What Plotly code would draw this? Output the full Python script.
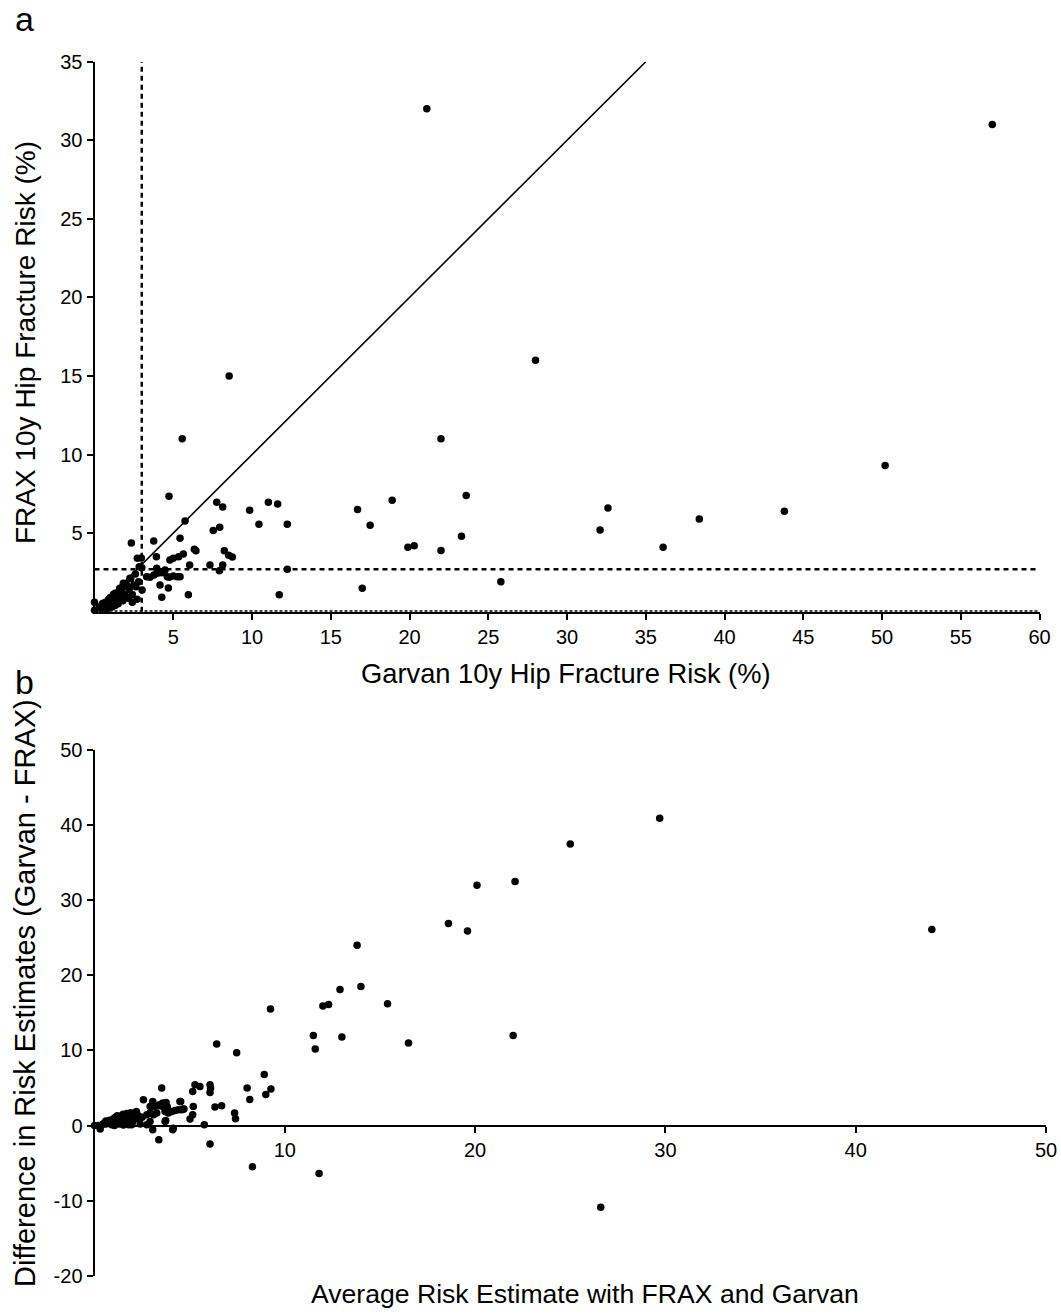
import plotly.graph_objects as go

W, H = 1061, 1316
FONT = "Liberation Sans, Arial, sans-serif"

# Panel a: Garvan vs FRAX 10-year hip fracture risk (%)
garvan = [21.1, 57.0, 28.0, 8.55, 5.57, 22.0, 50.2, 4.73, 43.8, 38.4, 36.1, 32.6, 32.1,
          25.8, 23.6, 23.3, 22.0, 20.3, 19.9, 18.9, 17.5, 16.7, 17.0, 12.24, 12.24, 11.73,
          11.63, 11.04, 10.44, 9.85, 8.14, 7.76, 7.95, 7.54, 5.75, 5.43, 8.24, 8.52, 8.75,
          6.34, 6.44, 5.64, 6.04, 7.33, 8.14, 7.93, 5.96, 5.43, 3.76, 2.34, 3.93, 2.72, 2.97,
          5.34, 5.0, 4.79, 2.84, 3.0, 3.95, 3.31, 3.52, 3.78, 3.99, 4.27, 4.48, 4.62, 4.75,
          5.0, 5.26, 4.16, 4.69, 3.02, 2.63, 4.27, 0.0, 0.0,
          0.3, 0.4, 0.5, 0.6, 0.7, 0.8, 0.9, 1.0, 1.0, 1.1, 1.2, 1.3, 1.3, 1.4, 1.5, 1.5,
          1.6, 1.7, 1.8, 1.8, 1.9, 2.0, 2.1, 2.2, 2.3, 2.4, 2.5, 2.6, 2.7, 2.1, 1.6, 1.2,
          0.7, 2.8, 2.4, 1.83, 2.25, 1.3, 1.62, 2.15, 0.56, 0.98]
frax = [32.0, 31.0, 16.0, 15.0, 11.0, 11.0, 9.3, 7.35, 6.4, 5.9, 4.1, 6.6, 5.2,
        1.9, 7.4, 4.8, 3.9, 4.2, 4.1, 7.1, 5.5, 6.5, 1.5, 5.56, 2.7, 1.08,
        6.86, 6.96, 5.56, 6.45, 6.66, 6.96, 5.37, 5.16, 5.77, 4.67, 3.88, 3.59, 3.48,
        3.97, 3.88, 3.67, 2.97, 2.97, 2.97, 2.61, 1.08, 2.23, 4.5, 4.37, 3.5, 3.4, 3.41,
        3.5, 3.4, 3.29, 2.86, 2.8, 2.76, 2.23, 2.19, 2.34, 2.44, 2.48, 2.65, 2.23, 2.19,
        2.27, 2.23, 1.7, 1.51, 1.38, 1.59, 0.92, 0.6, 0.1,
        0.3, 0.2, 0.5, 0.3, 0.6, 0.2, 0.8, 0.5, 0.9, 0.3, 0.7, 1.0, 0.4, 0.8, 1.1, 0.5,
        0.9, 1.3, 0.7, 1.6, 1.1, 1.8, 0.9, 1.4, 2.1, 1.1, 1.7, 2.4, 0.8, 1.6, 1.5, 1.1,
        0.1, 1.9, 0.6, 1.81, 2.13, 1.17, 0.95, 0.85, 0.53, 0.74]

# Treatment thresholds and line of identity
garvan_cut = [3.0]
frax_cut = [2.7]
identity = [0, 35]

# Panel b: average of the two estimates vs their difference (Garvan - FRAX)
avg_risk = [44.0, 29.7, 25.0, 22.1, 20.1, 18.6, 19.6, 13.8, 15.4, 14.0, 12.9, 16.5, 12.3,
            12.0, 13.0, 11.5, 11.6, 9.25, 8.92, 7.47, 6.42, 26.6, 22.0, 11.8, 8.3,
            9.0, 9.27, 8.02, 8.16, 7.36, 7.41, 6.33, 6.68, 6.07, 6.1, 6.07, 6.07, 5.77,
            5.28, 5.54, 5.16, 5.19, 5.16, 5.02, 4.53, 4.49, 4.67, 4.11, 4.14, 3.74, 3.71,
            3.71, 3.88, 4.05, 4.23, 4.4, 4.58, 4.7, 3.41, 3.59, 3.76, 3.62, 3.53, 3.38, 3.06,
            3.13, 3.06, 2.92, 2.75, 2.75, 2.92, 3.1, 3.27, 2.57, 2.92, 3.36, 3.83, 2.2, 0.0, 0.3,
            0.4, 0.5, 0.6, 0.7, 0.8, 0.8, 0.9, 1.0, 1.0, 1.1, 1.1, 1.2, 1.2, 1.3, 1.3, 1.4,
            1.4, 1.5, 1.5, 1.6, 1.6, 1.7, 1.7, 1.8, 1.8, 1.9, 1.9, 2.0, 2.0, 2.1, 2.2, 2.3,
            2.4, 2.5, 0.2, 0.6, 1.05, 1.52, 1.96]
diff_risk = [26.1, 40.9, 37.5, 32.5, 32.0, 26.9, 25.9, 24.0, 16.2, 18.5, 18.1, 11.0, 16.1,
             15.9, 11.8, 12.0, 10.2, 15.5, 6.8, 9.7, 10.85, -10.9, 12.0, -6.4, -5.5,
             4.13, 4.85, 4.98, 3.45, 1.65, 0.89, 2.45, 2.63, 5.43, 4.98, 4.4, -2.48, 0.1,
             5.43, 5.2, 4.53, 2.53, 1.43, 0.85, 3.2, 3.2, 2.19, -0.57, -0.35, 0.67, 0.53,
             1.87, 1.65, 1.87, 2.0, 2.1, 2.1, 2.19, 2.76, 2.99, 3.07, 2.45, 4.98, -1.9, 3.2,
             2.53, -0.57, 0.53, 0.1, 1.43, 1.65, 1.43, 1.65, 3.43, 2.53, 2.63, 2.45, 1.87, 0.0, -0.45,
             0.1, 0.3, 0.2, 0.5, 0.3, 0.7, 0.1, 0.5, 0.9, 0.3, 1.1, 0.6, 1.3, 0.9, 0.2, 1.2,
             0.6, 1.5, 0.9, 1.3, 0.4, 1.6, 1.0, 1.4, 0.1, 1.7, 0.8, 1.2, 0.5, 1.5, 0.9, 1.3,
             0.2, 1.1, 0.0, 0.6, 0.0, 0.05, 0.1]

a_xticks = [5, 10, 15, 20, 25, 30, 35, 40, 45, 50, 55, 60]
a_yticks = [5, 10, 15, 20, 25, 30, 35]
b_xticks = [10, 20, 30, 40, 50]
b_yticks = [-20, -10, 0, 10, 20, 30, 40, 50]
b_ylabels = ["-20", "-10", "0", "10", "20", "30", "40", "50"]


def px_x(p):
    return p / W


def px_y(p):
    return 1 - p / H


dot = dict(color="black", size=7.5, line=dict(width=0))

fig = go.Figure()
fig.add_trace(go.Scatter(x=garvan, y=frax, mode="markers", marker=dot,
                         xaxis="x", yaxis="y", cliponaxis=False, showlegend=False,
                         hoverinfo="x+y"))
fig.add_trace(go.Scatter(x=identity, y=identity, mode="lines",
                         line=dict(color="black", width=1.6),
                         xaxis="x", yaxis="y", showlegend=False, hoverinfo="skip"))
fig.add_trace(go.Scatter(x=avg_risk, y=diff_risk, mode="markers", marker=dot,
                         xaxis="x2", yaxis="y2", cliponaxis=False, showlegend=False,
                         hoverinfo="x+y"))

dash_style = dict(color="black", width=2.4, dash="5px,4px")
fig.add_shape(type="line", xref="x", yref="y", x0=garvan_cut[0], x1=garvan_cut[0],
              y0=0, y1=35, line=dash_style, layer="below")
fig.add_shape(type="line", xref="x", yref="y", x0=0, x1=60,
              y0=frax_cut[0], y1=frax_cut[0], line=dash_style, layer="below")
# dotted baseline along the bottom of panel a
fig.add_shape(type="line", xref="x", yref="y", x0=0, x1=60, y0=0, y1=0,
              line=dict(color="black", width=3, dash="3px,2px"), layer="below")

axis_common = dict(showgrid=False, zeroline=False, showline=True, linecolor="black",
                   linewidth=2, ticks="outside", ticklen=6, tickwidth=1.6,
                   tickcolor="black", tickfont=dict(family=FONT, size=20, color="black"),
                   tickmode="array", fixedrange=True, automargin=False)

fig.update_layout(
    template="none",
    width=W, height=H,
    margin=dict(l=0, r=0, t=0, b=0, pad=0, autoexpand=False),
    paper_bgcolor="white", plot_bgcolor="white",
    font=dict(family=FONT, color="black"),
    showlegend=False,
    xaxis=dict(domain=[px_x(94.5), px_x(1039.5)], range=[0, 60], anchor="y",
               tickvals=a_xticks, **axis_common),
    yaxis=dict(domain=[px_y(611.7), px_y(61.7)], range=[0, 35], anchor="x",
               tickvals=a_yticks, **axis_common),
    xaxis2=dict(domain=[px_x(94.5), px_x(1046)], range=[0, 50], anchor="free",
                position=px_y(1125.7), tickvals=b_xticks, **axis_common),
    yaxis2=dict(domain=[px_y(1275.7), px_y(750)], range=[-20, 50], anchor="x2",
                tickvals=b_yticks, ticktext=b_ylabels, **axis_common),
)

label_font = dict(family=FONT, size=34, color="black")
annotations = [
    dict(text="a", x=px_x(24), y=px_y(19), font=label_font),
    dict(text="b", x=px_x(24), y=px_y(682), font=label_font),
    dict(text="Garvan 10y Hip Fracture Risk (%)", x=px_x(566), y=px_y(673),
         font=dict(family=FONT, size=27.3, color="black")),
    dict(text="FRAX 10y Hip Fracture Risk (%)", x=px_x(25), y=px_y(343),
         font=dict(family=FONT, size=28, color="black"), textangle=-90),
    dict(text="Difference in Risk Estimates (Garvan - FRAX)", x=px_x(25), y=px_y(993),
         font=dict(family=FONT, size=29, color="black"), textangle=-90),
    dict(text="Average Risk Estimate with FRAX and Garvan", x=px_x(585), y=px_y(1294),
         font=dict(family=FONT, size=26.6, color="black")),
]
for a in annotations:
    fig.add_annotation(xref="paper", yref="paper", xanchor="center", yanchor="middle",
                       showarrow=False, **a)

fig.write_html("out.html")
